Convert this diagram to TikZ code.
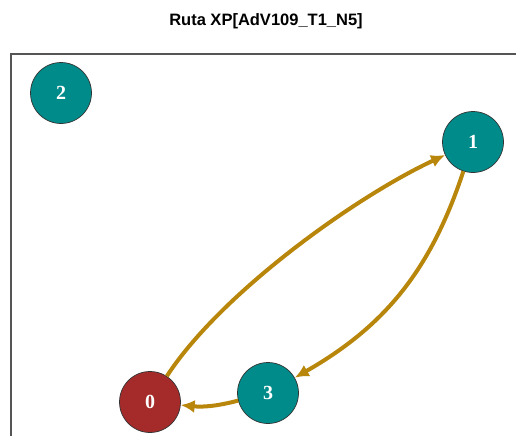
\documentclass[tikz,border=0pt]{standalone}
\usepackage{fontspec}
\setmainfont{Liberation Serif}
\newfontfamily\titlefont{Liberation Sans}
\usetikzlibrary{arrows.meta}
\definecolor{tealnode}{HTML}{008B8B}
\definecolor{rednode}{HTML}{A52A2A}
\definecolor{edgecol}{HTML}{B8860B}
\definecolor{framecol}{HTML}{555555}
\tikzset{
  vert/.style={circle, draw=black!80, line width=0.7pt, minimum size=61pt, inner sep=0pt,
    text=white, font=\fontsize{20}{20}\selectfont\bfseries},
  tealv/.style={vert, fill=tealnode},
  redv/.style={vert, fill=rednode},
  edge/.style={draw=edgecol, line width=4pt, -{Latex[length=14pt,width=13pt]}},
}
\begin{document}
\begin{tikzpicture}[x=1pt,y=-1pt]
\useasboundingbox (0,0) rectangle (516,436);
\node[font=\titlefont\fontsize{16.5}{16.5}\selectfont\bfseries] (title) at (266,21) {Ruta XP[AdV109\_T1\_N5]};
\coordinate (fbl) at (11,436);
\coordinate (ftl) at (11,54);
\coordinate (ftr) at (516,54);
\draw[framecol, line width=1.6pt] (fbl) -- (ftl) -- (ftr);
\node[tealv] (n2) at (61,93) {2};
\node[tealv] (n1) at (473,142) {1};
\node[tealv] (n3) at (268,393) {3};
\node[redv] (n0) at (150,402) {0};
\coordinate (c01a) at (221,293);
\coordinate (c01b) at (355,197);
\draw[edge] (n0) .. controls (c01a) and (c01b) .. (n1);
\draw[edge] (n1) to[bend left=21] (n3);
\draw[edge] (n3) to[bend left=10] (n0);
\end{tikzpicture}
\end{document}
